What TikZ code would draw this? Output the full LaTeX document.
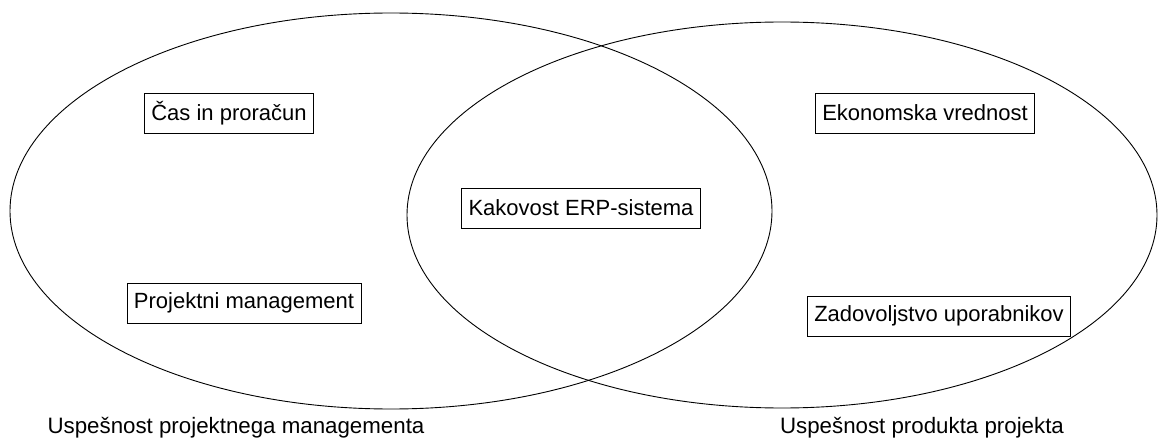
\documentclass[tikz,border=0pt]{standalone}
\usepackage{fontspec}
\setmainfont{Liberation Sans}
\begin{document}
\begin{tikzpicture}[x=1pt,y=-1pt,
  lbl/.style={draw, line width=0.8pt, inner xsep=7pt, minimum height=40pt, font=\fontsize{22}{26}\selectfont, anchor=center},
  captext/.style={font=\fontsize{22.3}{26}\selectfont, anchor=center, inner sep=0pt},
  ell/.style={line width=0.9pt}]
\useasboundingbox (0,0) rectangle (1159,441);
\draw[ell] (391,211) ellipse [x radius=381, y radius=198];
\draw[ell] (782,215) ellipse [x radius=375, y radius=193];
\node[lbl] (cas) at (229,113) {Čas in proračun};
\node[lbl] (pm) at (244,303) {Projektni management};
\node[lbl] (erp) at (581,208) {Kakovost ERP-sistema};
\node[lbl] (ek) at (925,113) {Ekonomska vrednost};
\node[lbl] (zad) at (939,316) {Zadovoljstvo uporabnikov};
\node[captext] (l1) at (236,428) {Uspešnost projektnega managementa};
\node[captext] (l2) at (922,428) {Uspešnost produkta projekta};
\end{tikzpicture}
\end{document}
